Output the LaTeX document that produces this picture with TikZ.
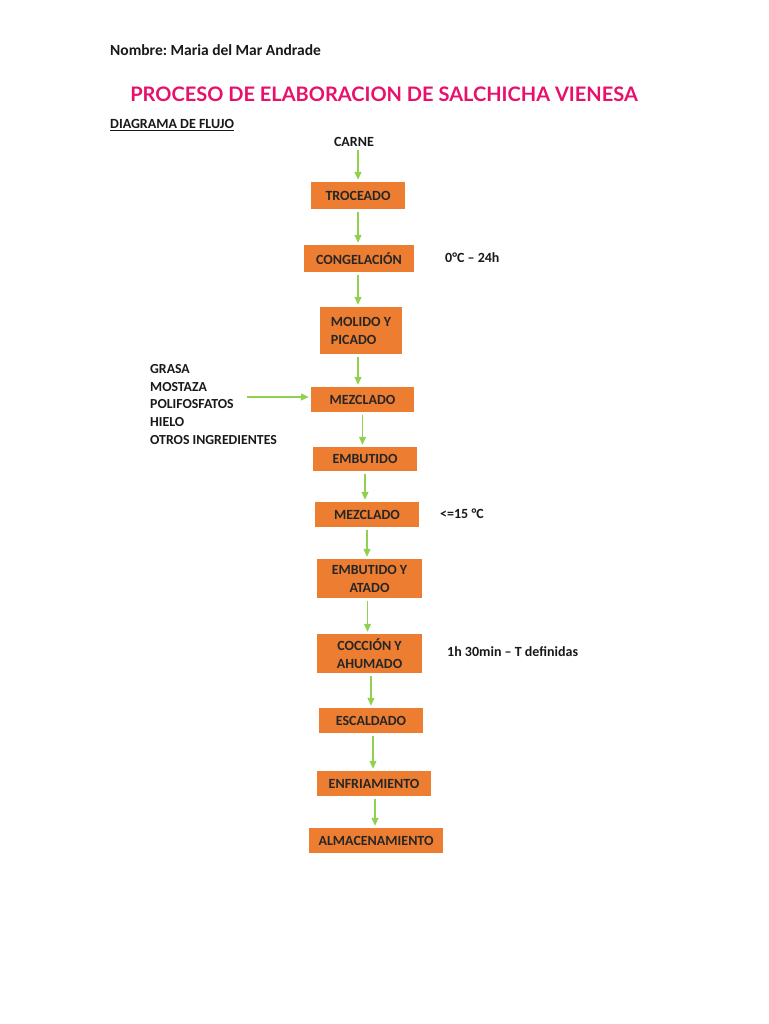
\documentclass[tikz,border=0pt]{standalone}
\usepackage{fontspec}
\setmainfont{Carlito}
\newfontfamily\titlefont{Lato}
\usetikzlibrary{arrows.meta}
\frenchspacing
\definecolor{boxorange}{HTML}{ED7D31}
\definecolor{arrgreen}{HTML}{92D050}
\definecolor{titlepink}{HTML}{E8106A}
\tikzset{
  stepbox/.style={fill=boxorange, inner sep=0pt, font=\bfseries\fontsize{14}{18}\selectfont, text=black!85},
  plain/.style={inner sep=0pt, font=\bfseries\fontsize{14}{17.8}\selectfont, text=black!90},
  flow/.style={draw=arrgreen, line width=1.2pt, -{Triangle[length=8pt,width=7pt]}, shorten <=3pt, shorten >=2pt}
}
\begin{document}
\begin{tikzpicture}[x=1pt,y=-1pt]
\useasboundingbox[fill=white] (0,0) rectangle (768,1024);
\node[plain, anchor=west, font=\bfseries\fontsize{15.5}{18}\selectfont] (nombre) at (110,50) {Nombre: Maria del Mar Andrade};
\node[inner sep=0pt, text=titlepink, font=\titlefont\bfseries\fontsize{20}{22}\selectfont] (title) at (384,94) {PROCESO DE ELABORACION DE SALCHICHA VIENESA};
\node[plain, anchor=west] (diag) at (110,125) {\underline{DIAGRAMA DE FLUJO}};
\node[plain] (carne) at (354,142) {CARNE};

\node[stepbox, minimum width=94pt, minimum height=27pt] (troc) at (358,195.5) {TROCEADO};
\node[stepbox, minimum width=110pt, minimum height=27pt] (cong) at (359,258.5) {CONGELACIÓN};
\node[plain, anchor=west] (t1) at (445,258) {0°C – 24h};
\node[stepbox, minimum width=82pt, minimum height=47pt, align=left] (mol) at (361,330.5) {MOLIDO Y\\PICADO\hspace{10pt}};
\node[stepbox, minimum width=103pt, minimum height=25pt] (mez1) at (362.5,399.5) {MEZCLADO};
\node[stepbox, minimum width=104pt, minimum height=24pt] (emb) at (365,459) {EMBUTIDO};
\node[stepbox, minimum width=104pt, minimum height=25pt] (mez2) at (367,514.5) {MEZCLADO};
\node[plain, anchor=west] (t2) at (440,514) {<=15 °C};
\node[stepbox, minimum width=105pt, minimum height=39pt, align=center] (eya) at (369.5,578.5) {EMBUTIDO Y\\ATADO};
\node[stepbox, minimum width=105pt, minimum height=39pt, align=center] (coc) at (369.5,653.5) {COCCIÓN Y\\AHUMADO};
\node[plain, anchor=west] (t3) at (447,652) {1h 30min – T definidas};
\node[stepbox, minimum width=104pt, minimum height=25pt] (esc) at (371,720.5) {ESCALDADO};
\node[stepbox, minimum width=114pt, minimum height=25pt] (enf) at (374,783.5) {ENFRIAMIENTO};
\node[stepbox, minimum width=134pt, minimum height=25pt] (alm) at (376,840.5) {ALMACENAMIENTO};

\node[plain, anchor=north west, align=left, font=\bfseries\fontsize{13.8}{17.8}\selectfont] (ingr) at (150,364) {GRASA\\MOSTAZA\\POLIFOSFATOS\\HIELO\\OTROS INGREDIENTES};
\coordinate (ingarr) at (247,397);

\draw[flow] (troc.north |- carne.south) -- (troc.north);
\draw[flow] (troc.south) -- (troc.south |- cong.north);
\draw[flow] (troc.south |- cong.south) -- (troc.south |- mol.north);
\draw[flow] (troc.south |- mol.south) -- (troc.south |- mez1.north);
\draw[flow] (mez1.south) -- (mez1.south |- emb.north);
\draw[flow] (emb.south) -- (emb.south |- mez2.north);
\draw[flow] (mez2.south) -- (mez2.south |- eya.north);
\draw[flow] ([xshift=-2pt]eya.south) -- ([xshift=-2pt]eya.south |- coc.north);
\draw[flow] ([xshift=1.5pt]coc.south) -- ([xshift=1.5pt]coc.south |- esc.north);
\draw[flow] ([xshift=2pt]esc.south) -- ([xshift=2pt]esc.south |- enf.north);
\draw[flow] ([xshift=1pt]enf.south) -- ([xshift=1pt]enf.south |- alm.north);
\draw[flow, shorten <=0pt] (ingarr) -- (ingarr -| mez1.west);
\end{tikzpicture}
\end{document}
